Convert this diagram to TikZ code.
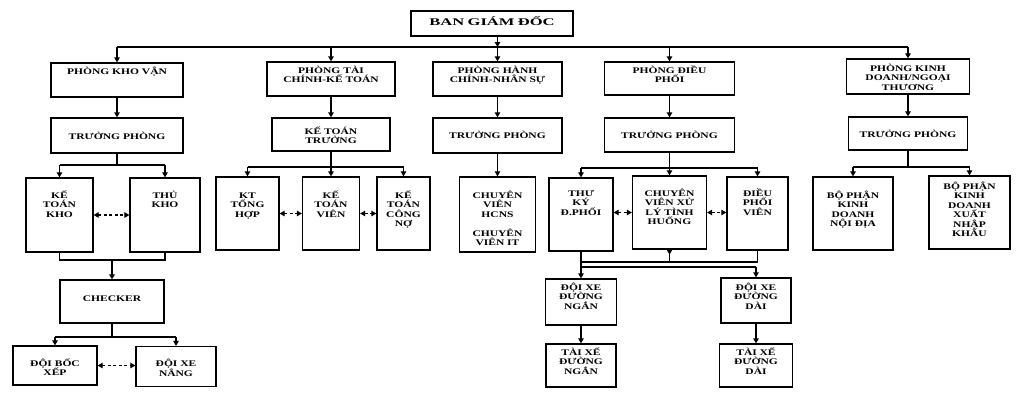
\documentclass[tikz,border=0pt]{standalone}
\usepackage{fontspec}
\newfontfamily\orgfont{Liberation Serif}[FakeStretch=1.34]
\newfontfamily\topfont{Liberation Serif}[FakeStretch=1.62]
\usetikzlibrary{arrows.meta}
\tikzset{
  every picture/.style={line width=1.1pt, x=1pt, y=-1pt},
  unit/.style={draw, line width=1.3pt, inner sep=0pt, align=center, font=\orgfont\bfseries\fontsize{8.6}{9.5}\selectfont},
  cell/.style n args={3}{unit, text width=#1pt, text height=#2pt, text depth=#3pt},
  link/.style={-{Triangle[length=5pt, width=5.5pt]}},
  pair/.style={{Triangle[length=5pt, width=5.5pt]}-{Triangle[length=5pt, width=5.5pt]}, dash pattern=on 3pt off 2.5pt},
  back/.style={{Triangle[reversed, length=5pt, width=5.5pt]}-},
}

\begin{document}
\begin{tikzpicture}
  \useasboundingbox (0,0) rectangle (1024,400);
  % board and departments
  \node[cell={162}{14}{11}, font=\topfont\bfseries\fontsize{10.2}{11}\selectfont] (bgd) at (492,23.5) {BAN GIÁM ĐỐC};
  \coordinate (bus) at (497.5,47);
  \node[cell={132}{11}{23}] (pkv) at (117,80) {PHÒNG KHO VẬN};
  \node[cell={128}{11}{23}] (ptc) at (331,79) {PHÒNG TÀI\\CHÍNH-KẾ TOÁN};
  \node[cell={129}{11}{23}] (phc) at (497.5,79) {PHÒNG HÀNH\\CHÍNH-NHÂN SỰ};
  \node[cell={130}{11}{22}] (pdp) at (669.5,78.5) {PHÒNG ĐIỀU\\PHỐI};
  \node[cell={123}{12}{23}] (pkd) at (908,76.5) {PHÒNG KINH\\DOANH/NGOẠI\\THƯƠNG};
  \draw[link] (bgd.south -| bus) -- (bus);
  \draw (bus -| pkv) -- (bus -| pkd);
  \foreach \d in {pkv,ptc,phc,pdp,pkd} \draw[link] (bus -| \d) -- (\d.north);
  % heads
  \node[cell={132}{21}{14}] (tp1) at (117,135.5) {TRƯỞNG PHÒNG};
  \node[cell={118}{16}{17}] (ktt) at (331,134.5) {KẾ TOÁN\\TRƯỞNG};
  \node[cell={129}{20}{15}] (tp3) at (497.5,135.5) {TRƯỞNG PHÒNG};
  \node[cell={130}{20}{14}] (tp4) at (669.5,135) {TRƯỞNG PHÒNG};
  \node[cell={119}{20}{13}] (tp5) at (908,133.5) {TRƯỞNG PHÒNG};
  \foreach \a/\b in {pkv/tp1,ptc/ktt,phc/tp3,pdp/tp4,pkd/tp5} \draw[link] (\a.south) -- (\b.north);
  % kho van
  \node[cell={67}{20}{54}] (ktk) at (59.5,215) {KẾ\\TOÁN\\KHO};
  \node[cell={70}{20}{54}] (tk) at (165,215) {THỦ\\KHO};
  \coordinate (kv1) at (117,165);
  \draw (tp1.south) -- (kv1);
  \draw (kv1 -| ktk) -- (kv1 -| tk);
  \foreach \n in {ktk,tk} \draw[link] (kv1 -| \n) -- (\n.north);
  \draw[pair] (ktk) -- (tk);
  \node[cell={104}{21}{22}] (chk) at (112,301.5) {CHECKER};
  \coordinate (kv2) at (112,260);
  \draw (ktk.south) |- (kv2) -| (tk.south);
  \draw[link] (kv2) -- (chk.north);
  \node[cell={84}{20}{19}] (dbx) at (55,365.5) {ĐỘI BỐC\\XẾP};
  \node[cell={80}{20}{20}] (dxn) at (176,366.5) {ĐỘI XE\\NÂNG};
  \coordinate (kv3) at (112,337);
  \draw (chk.south) -- (kv3);
  \draw (kv3 -| dbx) -- (kv3 -| dxn);
  \foreach \n in {dbx,dxn} \draw[link] (kv3 -| \n) -- (\n.north);
  \draw[pair] (dbx.east) -- (dbx.east -| dxn.west);
  % tai chinh
  \node[cell={63}{21}{52}] (kth) at (247.5,213.5) {KT\\TỔNG\\HỢP};
  \node[cell={57}{21}{52}] (ktv) at (331,213.5) {KẾ\\TOÁN\\VIÊN};
  \node[cell={53}{21}{52}] (ktcn) at (403.5,213.5) {KẾ\\TOÁN\\CÔNG\\NỢ};
  \coordinate (tc1) at (331,167);
  \draw (ktt.south) -- (tc1);
  \draw (tc1 -| kth) -- (tc1 -| ktcn);
  \foreach \n in {kth,ktv,ktcn} \draw[link] (tc1 -| \n) -- (\n.north);
  \draw[pair] (kth) -- (ktv);
  \draw[pair] (ktv) -- (ktcn);
  % hanh chinh
  \node[cell={76}{21}{54}] (cvh) at (497.5,214.5) {CHUYÊN\\VIÊN\\HCNS\\[9.5pt]CHUYÊN\\VIÊN IT};
  \draw[link] (tp3.south) -- (cvh.north);
  % dieu phoi
  \node[cell={64}{18}{55}] (tkdp) at (581,214.5) {THƯ\\KÝ\\Đ.PHỐI};
  \node[cell={74}{20}{53}] (cvx) at (669.5,212.5) {CHUYÊN\\VIÊN XỬ\\LÝ TÌNH\\HUỐNG};
  \node[cell={61}{19}{54}] (dpv) at (757.5,213.5) {ĐIỀU\\PHỐI\\VIÊN};
  \coordinate (dp1) at (669.5,168);
  \draw (tp4.south) -- (dp1);
  \draw (dp1 -| tkdp) -- (dp1 -| dpv);
  \foreach \n in {tkdp,cvx,dpv} \draw[link] (dp1 -| \n) -- (\n.north);
  \draw[pair] (cvx.west -| tkdp.east) -- (cvx.west);
  \draw[pair] (cvx.east) -- (cvx.east -| dpv.west);
  \coordinate (dp2) at (669.5,262);
  \coordinate (dp3) at (669.5,267);
  \draw (tkdp.south) |- (dp2) -| (dpv.south);
  \draw[back] (cvx.south) -- (dp2);
  \node[cell={71}{11}{35}] (dxng) at (581,302) {ĐỘI XE\\ĐƯỜNG\\NGẮN};
  \node[cell={70}{12}{33}] (dxd) at (756,300.5) {ĐỘI XE\\ĐƯỜNG\\DÀI};
  \draw (dp2 -| tkdp) -- (dp3 -| tkdp) -- (dp3 -| dxd);
  \foreach \n in {dxng,dxd} \draw[link] (dp3 -| \n) -- (\n.north);
  \node[cell={70}{11}{32}] (txng) at (581,365.5) {TÀI XẾ\\ĐƯỜNG\\NGẮN};
  \node[cell={73}{11}{32}] (txd) at (756,365.5) {TÀI XẾ\\ĐƯỜNG\\DÀI};
  \draw[link] (dxng.south) -- (txng.north);
  \draw[link] (dxd.south) -- (txd.north);
  % kinh doanh
  \node[cell={80}{21}{52}] (bpnd) at (853,213.5) {BỘ PHẬN\\KINH\\DOANH\\NỘI ĐỊA};
  \node[cell={81}{13}{60}] (bpxk) at (969.5,212.5) {BỘ PHẬN\\KINH\\DOANH\\XUẤT\\NHẬP\\KHẨU};
  \coordinate (kd1) at (908,167);
  \draw (tp5.south) -- (kd1);
  \draw (kd1 -| bpnd) -- (kd1 -| bpxk);
  \foreach \n in {bpnd,bpxk} \draw[link] (kd1 -| \n) -- (\n.north);
\end{tikzpicture}
\end{document}
